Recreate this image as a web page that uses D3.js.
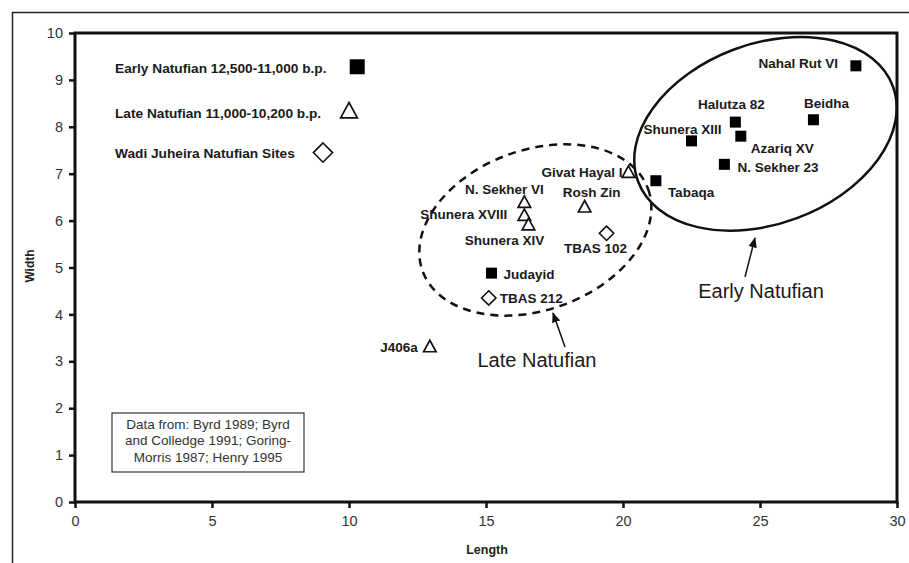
<!DOCTYPE html>
<html>
<head>
<meta charset="utf-8">
<script src="https://cdn.jsdelivr.net/npm/d3@7"></script>
<style>
	body { margin: 0; background: #fff; }
	svg { display: block; font-family: "Liberation Sans", Arial, sans-serif; }
</style>
</head>
<body>
<svg id="chart"></svg>
<script>
// sites: length / width
var siteNames  = ["Nahal Rut VI", "Halutza 82", "Beidha", "Shunera XIII", "Azariq XV", "N. Sekher 23", "Tabaqa", "Judayid",
	"Givat Hayal I", "N. Sekher VI", "Shunera XVIII", "Shunera XIV", "Rosh Zin", "J406a",
	"TBAS 102", "TBAS 212"]
var siteLength = [28.5, 24.1, 26.95, 22.5, 24.3, 23.7, 21.2, 15.2,
	20.2, 16.4, 16.4, 16.55, 18.6, 12.95,
	19.4, 15.1]
var siteWidth  = [9.3, 8.1, 8.15, 7.7, 7.8, 7.2, 6.85, 4.88,
	7.02, 6.38, 6.1, 5.9, 6.28, 3.3,
	5.73, 4.35]
var sitePeriod = ["early", "early", "early", "early", "early", "early", "early", "early",
	"late", "late", "late", "late", "late", "late",
	"wadi", "wadi"]

// legend drawn as points inside the plot
var legendLabels = ["Early Natufian 12,500-11,000 b.p.", "Late Natufian 11,000-10,200 b.p.", "Wadi Juheira Natufian Sites"]
var legendPeriod = ["early", "late", "wadi"]
var legendLength = [10.3, 10.0, 9.05]
var legendWidth  = [9.28, 8.32, 7.45]

var xTicks = [0, 5, 10, 15, 20, 25, 30]
var yTicks = [0, 1, 2, 3, 4, 5, 6, 7, 8, 9, 10]

var sourceLines = ["Data from: Byrd 1989; Byrd", "and Colledge 1991; Goring-", "Morris 1987; Henry 1995"]

// label placement (pixels, relative to the point)
var labelPos = {
	"Nahal Rut VI":  { dx: -18, dy: -3, anchor: "end" },
	"Halutza 82":    { dx: -4, dy: -18, anchor: "middle" },
	"Beidha":        { dx: 13, dy: -16, anchor: "middle" },
	"Shunera XIII":  { dx: -9, dy: -12, anchor: "middle" },
	"Azariq XV":     { dx: 10, dy: 12, anchor: "start" },
	"N. Sekher 23":  { dx: 13, dy: 3, anchor: "start" },
	"Tabaqa":        { dx: 12, dy: 12, anchor: "start" },
	"Judayid":       { dx: 12, dy: 1, anchor: "start" },
	"Givat Hayal I": { dx: -6, dy: 0, anchor: "end" },
	"N. Sekher VI":  { dx: -20, dy: -14, anchor: "middle" },
	"Shunera XVIII": { dx: -17, dy: -2, anchor: "end" },
	"Shunera XIV":   { dx: -24, dy: 15, anchor: "middle" },
	"Rosh Zin":      { dx: 7, dy: -15, anchor: "middle" },
	"J406a":         { dx: -12, dy: 0, anchor: "end" },
	"TBAS 102":      { dx: -11, dy: 15, anchor: "middle" },
	"TBAS 212":      { dx: 11, dy: 0, anchor: "start" }
}

var dim = {
	width: 909,
	height: 563,
	margin: { top: 33, right: 12, bottom: 61, left: 75 }
}
var w = dim.width - dim.margin.left - dim.margin.right
var h = dim.height - dim.margin.top - dim.margin.bottom

var root = d3.select("#chart")
	.attr("width", dim.width)
	.attr("height", dim.height)

// outer frame of the figure (only top and left edges visible)
root.append("path")
	.attr("d", "M12.5,563 L12.5,12.5 L909,12.5")
	.attr("fill", "none")
	.attr("stroke", "#222")
	.attr("stroke-width", 1.5)

var svg = root.append("g")
	.attr("transform", "translate(" + dim.margin.left + "," + dim.margin.top + ")")

var x = d3.scaleLinear().domain([0, 30]).range([0, w])
var y = d3.scaleLinear().domain([0, 10]).range([h, 0])

var xAxis = svg.append("g")
	.attr("transform", "translate(0," + h + ")")
	.call(d3.axisBottom(x).tickValues(xTicks).tickSize(6).tickPadding(8))
var yAxis = svg.append("g")
	.call(d3.axisLeft(y).tickValues(yTicks).tickSize(6).tickPadding(6))

;[xAxis, yAxis].forEach(function(a) {
	a.select(".domain").remove()
	a.selectAll(".tick line").attr("stroke", "#111").attr("stroke-width", 2.5)
	a.selectAll(".tick text")
		.attr("fill", "#333")
		.style("font-size", "14.5px")
		.style("font-family", "'Liberation Sans', Arial, sans-serif")
})

// plot frame
svg.append("rect")
	.attr("x", 0).attr("y", 0)
	.attr("width", w).attr("height", h)
	.attr("fill", "none")
	.attr("stroke", "#111")
	.attr("stroke-width", 3)

// axis titles
root.append("text")
	.attr("transform", "translate(34,266) rotate(-90)")
	.attr("text-anchor", "middle")
	.style("font-size", "12px").style("font-weight", "bold")
	.attr("fill", "#222")
	.text("Width")
root.append("text")
	.attr("x", dim.margin.left + w / 2 + 1).attr("y", 554)
	.attr("text-anchor", "middle")
	.style("font-size", "12.5px").style("font-weight", "bold")
	.attr("fill", "#222")
	.text("Length")

// grouping ellipses
var groups = [
	{ cx: 25.2, cy: 7.85, rx: 136, ry: 90, rot: -20.5, dash: null },
	{ cx: 16.8, cy: 5.8, rx: 120, ry: 80, rot: -20, dash: "8,6" }
]
groups.forEach(function(g) {
	svg.append("ellipse")
		.attr("transform", "translate(" + x(g.cx) + "," + y(g.cy) + ") rotate(" + g.rot + ")")
		.attr("rx", g.rx).attr("ry", g.ry)
		.attr("fill", "none")
		.attr("stroke", "#111")
		.attr("stroke-width", 2.5)
		.attr("stroke-dasharray", g.dash)
})

function marker(sel, period, s) {
	if (period == "early") {
		sel.append("rect")
			.attr("x", -s / 2).attr("y", -s / 2)
			.attr("width", s).attr("height", s)
			.attr("fill", "#000")
	} else if (period == "late") {
		var r = s * 0.58
		sel.append("path")
			.attr("d", "M0," + (-r) + " L" + (r * 0.9) + "," + (r * 0.65) + " L" + (-r * 0.9) + "," + (r * 0.65) + " Z")
			.attr("fill", "#fff").attr("stroke", "#111").attr("stroke-width", 1.7)
	} else {
		var d = s * 0.6
		sel.append("path")
			.attr("d", "M0," + (-d) + " L" + d + ",0 L0," + d + " L" + (-d) + ",0 Z")
			.attr("fill", "#fff").attr("stroke", "#111").attr("stroke-width", 1.6)
	}
}

// sites
siteNames.forEach(function(name, i) {
	var g = svg.append("g")
		.attr("transform", "translate(" + x(siteLength[i]) + "," + y(siteWidth[i]) + ")")
	marker(g, sitePeriod[i], sitePeriod[i] == "early" ? 11 : 12)
	var p = labelPos[name]
	g.append("text")
		.attr("x", p.dx).attr("y", p.dy)
		.attr("dy", "0.35em")
		.attr("text-anchor", p.anchor)
		.style("font-size", "13.5px").style("font-weight", "bold")
		.attr("fill", "#1a1a1a")
		.text(name)
})

// legend
legendLabels.forEach(function(lab, i) {
	var g = svg.append("g")
		.attr("transform", "translate(" + x(legendLength[i]) + "," + y(legendWidth[i]) + ")")
	marker(g, legendPeriod[i], legendPeriod[i] == "early" ? 15 : 16)
	svg.append("text")
		.attr("x", 40).attr("y", y(legendWidth[i]) + 1)
		.attr("dy", "0.35em")
		.style("font-size", "13.7px").style("font-weight", "bold")
		.attr("fill", "#1a1a1a")
		.text(lab)
})

// group annotations with arrows
var notes = [
	{ text: "Early Natufian", tx: 686, ty: 258, from: [670, 244], to: [680, 205] },
	{ text: "Late Natufian", tx: 462, ty: 327, from: [490, 314], to: [478, 280] }
]
root.append("defs").append("marker")
	.attr("id", "arrow")
	.attr("viewBox", "0 0 10 10")
	.attr("refX", 9).attr("refY", 5)
	.attr("markerWidth", 7).attr("markerHeight", 7)
	.attr("orient", "auto")
	.append("path").attr("d", "M0,1 L10,5 L0,9 Z").attr("fill", "#111")
notes.forEach(function(n) {
	svg.append("line")
		.attr("x1", n.from[0]).attr("y1", n.from[1])
		.attr("x2", n.to[0]).attr("y2", n.to[1])
		.attr("stroke", "#111").attr("stroke-width", 1.5)
		.attr("marker-end", "url(#arrow)")
	svg.append("text")
		.attr("x", n.tx).attr("y", n.ty)
		.attr("dy", "0.35em")
		.attr("text-anchor", "middle")
		.style("font-size", "20px")
		.attr("fill", "#1a1a1a")
		.text(n.text)
})

// source box
var box = svg.append("g").attr("transform", "translate(37,380)")
box.append("rect")
	.attr("width", 192).attr("height", 59)
	.attr("fill", "#fff")
	.attr("stroke", "#333").attr("stroke-width", 1.2)
sourceLines.forEach(function(t, i) {
	box.append("text")
		.attr("x", 96).attr("y", 11 + i * 16.5)
		.attr("dy", "0.35em")
		.attr("text-anchor", "middle")
		.style("font-size", "13.5px")
		.attr("fill", "#333")
		.text(t)
})
</script>
</body>
</html>
